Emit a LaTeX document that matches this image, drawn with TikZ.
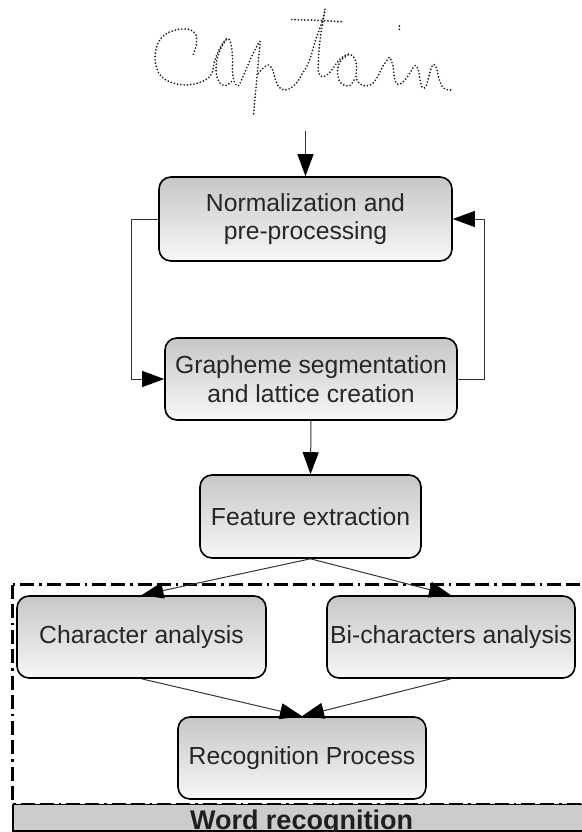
\documentclass[tikz,border=0pt]{standalone}
\usepackage{fontspec}
\setmainfont{Liberation Sans}
\usetikzlibrary{arrows.meta}
\begin{document}
\begin{tikzpicture}[x=1pt,y=-1pt,
  stage/.style={draw=black, line width=1.6pt, rounded corners=12pt,
    top color=black!22, bottom color=black!3, text=black!85,
    align=center, inner sep=0pt, font=\fontsize{24.7}{28.5}\selectfont},
  flow/.style={draw=black!80, line width=1pt, -{Triangle[length=22pt,width=16pt,color=black]}},
  pen/.style={line width=1.9pt, dash pattern=on 0pt off 3.3pt, line cap=round, black!90},
  frame/.style={line width=2.2pt, dash pattern=on 14pt off 5pt on 14pt off 5pt on 2.5pt off 5pt},
  barbox/.style={draw=black, line width=1.6pt, fill=black!20, inner sep=0pt}]
\useasboundingbox (0,0) rectangle (581,832);

% handwritten input word, drawn as a dotted pen trace
\draw[pen] plot[smooth, tension=0.6] coordinates {
  (193.3,54.3) (196.5,44) (196,35) (191,30) (183,29) (174,30.5) (165,34.5) (158.5,42)
  (155.5,52) (155.5,63) (158.5,72.5) (165,79.5) (175,83.5) (187,85) (198,83) (207,79)
  (212,73) (215,60) (220,48) (227,38.5) (231,44) (232.5,58) (232.5,72) (234.5,82) (238.5,85.5)
  (245,72) (251,58) (257,46) (260,41.5) (259,54) (257.5,71) (256,88) (254.5,104) (253.3,117)};
\draw[pen] plot[smooth, tension=0.6] coordinates {
  (226,40) (220,50) (216.5,62) (216.5,75) (220,83) (226,85.5) (232,81)};
\draw[pen] plot[smooth, tension=0.6] coordinates {
  (258.3,73.3) (263.3,68) (268.3,65) (272.7,70) (275.5,80) (279,87) (284,90) (290,88.5)
  (296.5,83) (302,74) (307,66) (311,56) (315,42) (319.5,29) (323.3,18) (325,9)
  (323,21) (320.5,36) (319,50) (318.3,62) (318.5,72) (321.5,76.5) (327,75) (333,68.5)
  (338.5,60.5) (345,55.5) (350,54.3) (355,59) (356.7,68) (356,77) (359,83) (365,86)
  (372,84) (378,76) (383,66) (388,59) (390,57.7) (393,66) (394.5,78) (397,84) (402,83)
  (408,76) (413,68) (415.5,65.5) (418.5,70) (420,80) (422.7,88) (426.5,85) (430,72)
  (433.3,64.3) (436.7,68.5) (438.5,77) (442,86) (446,89.5) (453.3,90)};
\draw[pen] plot[smooth, tension=0.6] coordinates {
  (348,55) (340.5,61) (337.5,70) (339,80) (344,85) (350,85.5) (354,80)};
\draw[pen] plot[smooth, tension=0.6] coordinates {
  (291.7,19.5) (305,20) (320,20.5) (342,21.7)};
\draw[pen] (399.3,26) -- (399.3,30);

% word recognition module: dash-dotted frame and title bar
\draw[frame] (12.5,584.5) rectangle (600,804);
\node[barbox, minimum width=576pt, minimum height=26.5pt] (bar) at (301,817.75) {};
\node[font=\bfseries\fontsize{27}{30}\selectfont, text=black!88, anchor=base, inner sep=0pt]
  (barlabel) at (301.5,829.5) {Word recognition};

% processing stages
\node[stage, minimum width=293pt, minimum height=84pt] (norm) at (305.5,219)
  {Normalization and\\pre-processing};
\node[stage, minimum width=292pt, minimum height=82pt] (graph) at (311,379)
  {Grapheme segmentation\\and lattice creation};
\node[stage, minimum width=221pt, minimum height=83pt] (feat) at (310.5,516.5)
  {Feature extraction};
\node[stage, minimum width=249pt, minimum height=82pt] (char) at (141.5,637)
  {Character analysis};
\node[stage, minimum width=248pt, minimum height=82pt] (bichar) at (451,637)
  {Bi-characters analysis};
\node[stage, minimum width=248pt, minimum height=82pt] (recog) at (302,758)
  {Recognition Process};

% connectors
\coordinate (src) at (305.5,131);
\draw[flow] (src) -- (norm.north);
\draw[flow] (norm.west) -- ++(-27,0) |- (graph.west);
\draw[flow] (graph.east) -- ++(27,0) |- (norm.east);
\draw[flow] (graph.south) -- (feat.north);
\draw[flow] (feat.south) -- (char.north);
\draw[flow] (feat.south) -- (bichar.north);
\draw[flow] (char.south) -- (recog.north);
\draw[flow] (bichar.south) -- (recog.north);
\end{tikzpicture}
\end{document}
